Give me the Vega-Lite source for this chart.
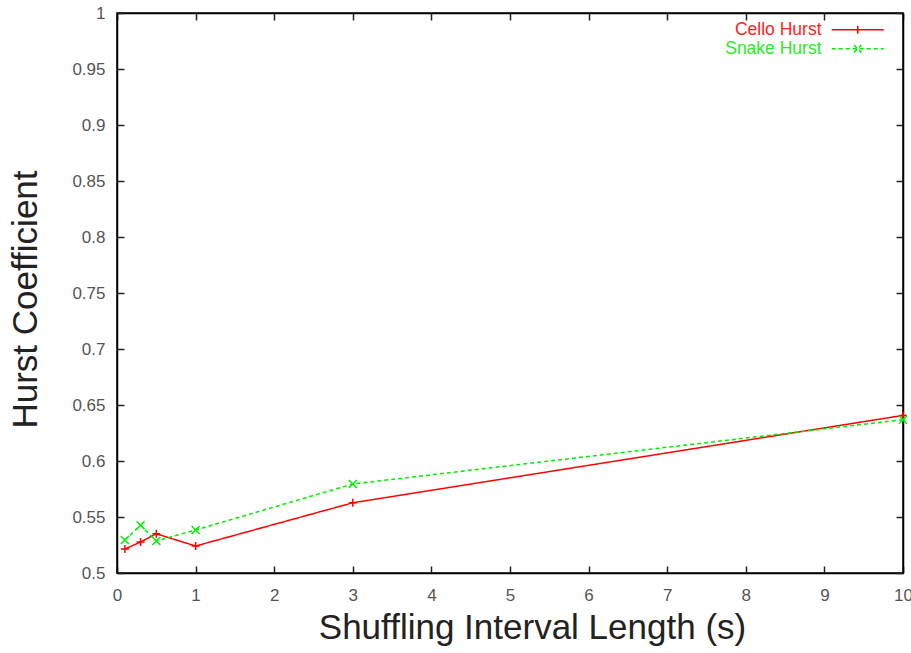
{
  "$schema": "https://vega.github.io/schema/vega-lite/v6.json",
  "width": 786,
  "height": 560,
  "autosize": {"type": "none"},
  "padding": {"left": 117, "top": 13, "right": 8, "bottom": 80},
  "background": "white",
  "config": {
    "view": {"stroke": "black", "strokeWidth": 1.5},
    "font": "Liberation Sans",
    "axis": {
      "grid": false,
      "domainColor": "black",
      "domainWidth": 1.5,
      "tickColor": "#222222",
      "tickWidth": 1.5,
      "tickSize": -7,
      "labelColor": "#555555",
      "labelFontSize": 17,
      "labelFont": "Liberation Sans",
      "labelFlush": false,
      "labelOverlap": false,
      "titleFont": "Liberation Sans",
      "titleFontSize": 35,
      "titleFontWeight": "normal",
      "titleColor": "#222222"
    }
  },
  "data": {
    "values": [
      {"x": 0.1, "h": 0.5214, "series": "Cello Hurst"},
      {"x": 0.3, "h": 0.5277, "series": "Cello Hurst"},
      {"x": 0.5, "h": 0.535, "series": "Cello Hurst"},
      {"x": 1, "h": 0.5241, "series": "Cello Hurst"},
      {"x": 3, "h": 0.5627, "series": "Cello Hurst"},
      {"x": 10, "h": 0.6407, "series": "Cello Hurst"},
      {"x": 0.1, "h": 0.5295, "series": "Snake Hurst"},
      {"x": 0.3, "h": 0.5426, "series": "Snake Hurst"},
      {"x": 0.5, "h": 0.5286, "series": "Snake Hurst"},
      {"x": 1, "h": 0.5384, "series": "Snake Hurst"},
      {"x": 3, "h": 0.5795, "series": "Snake Hurst"},
      {"x": 10, "h": 0.6369, "series": "Snake Hurst"}
    ]
  },
  "layer": [
    {
      "mark": {"type": "line", "strokeWidth": 1.5},
      "encoding": {
        "x": {
          "field": "x",
          "type": "quantitative",
          "scale": {"domain": [0, 10], "nice": false, "zero": false},
          "axis": {
            "values": [0, 1, 2, 3, 4, 5, 6, 7, 8, 9, 10],
            "format": "d",
            "labelPadding": 21,
            "title": "Shuffling Interval Length (s)",
            "titleX": 415,
            "titleY": 65,
            "titleBaseline": "alphabetic",
            "titleAlign": "center"
          }
        },
        "y": {
          "field": "h",
          "type": "quantitative",
          "scale": {"domain": [0.5, 1], "nice": false, "zero": false},
          "axis": {
            "values": [0.5, 0.55, 0.6, 0.65, 0.7, 0.75, 0.8, 0.85, 0.9, 0.95, 1],
            "format": "~g",
            "labelPadding": 19,
            "title": "Hurst Coefficient",
            "titleX": -81,
            "titleY": 286,
            "titleAngle": 270,
            "titleBaseline": "alphabetic",
            "titleAlign": "center"
          }
        },
        "color": {
          "field": "series",
          "type": "nominal",
          "scale": {"domain": ["Cello Hurst", "Snake Hurst"], "range": ["#ff0000", "#00ee00"]},
          "legend": {
            "orient": "none",
            "legendX": 732,
            "legendY": 8,
            "title": null,
            "symbolSize": 16,
            "rowPadding": 0,
            "labelAlign": "right",
            "labelOffset": -45,
            "labelFontSize": 17.5,
            "labelFont": "Liberation Sans",
            "symbolStrokeWidth": 1.5,
            "encode": {
              "symbols": {
                "update": {
                  "shape": {"signal": "datum.value === 'Cello Hurst' ? 'M-13,0H13M0,-2V2' : 'M-13,0H13M-1.8,-1.8L1.8,1.8M-1.8,1.8L1.8,-1.8'"},
                  "strokeDash": {"signal": "datum.value === 'Cello Hurst' ? [1,0] : [4,3]"},
                  "stroke": {"signal": "datum.value === 'Cello Hurst' ? '#ff0000' : '#00ee00'"},
                  "strokeWidth": {"value": 1.5},
                  "fill": {"value": "transparent"},
                  "opacity": {"value": 1}
                }
              },
              "labels": {
                "update": {
                  "fill": {"signal": "datum.value === 'Cello Hurst' ? '#ff2222' : '#22ee22'"}
                }
              }
            }
          }
        },
        "strokeDash": {
          "field": "series",
          "type": "nominal",
          "scale": {"domain": ["Cello Hurst", "Snake Hurst"], "range": [[1, 0], [4, 3]]},
          "legend": null
        }
      }
    },
    {
      "transform": [{"filter": "datum.series === 'Cello Hurst'"}],
      "mark": {"type": "point", "shape": "M-1,0H1M0,-1V1", "filled": false, "color": "#ff0000", "strokeWidth": 1.5, "size": 64, "opacity": 1},
      "encoding": {
        "x": {
          "field": "x",
          "type": "quantitative",
          "scale": {"domain": [0, 10], "nice": false, "zero": false},
          "axis": {"orient": "top", "labels": false, "title": null, "values": [0, 1, 2, 3, 4, 5, 6, 7, 8, 9, 10]}
        },
        "y": {
          "field": "h",
          "type": "quantitative",
          "scale": {"domain": [0.5, 1], "nice": false, "zero": false},
          "axis": {"orient": "right", "labels": false, "title": null, "values": [0.5, 0.55, 0.6, 0.65, 0.7, 0.75, 0.8, 0.85, 0.9, 0.95, 1]}
        }
      }
    },
    {
      "transform": [{"filter": "datum.series === 'Snake Hurst'"}],
      "mark": {"type": "point", "shape": "M-1,-1L1,1M-1,1L1,-1", "filled": false, "color": "#00ee00", "strokeWidth": 1.5, "size": 64, "opacity": 1},
      "encoding": {
        "x": {"field": "x", "type": "quantitative", "axis": null},
        "y": {"field": "h", "type": "quantitative", "axis": null}
      }
    }
  ],
  "resolve": {"axis": {"x": "independent", "y": "independent"}}
}
